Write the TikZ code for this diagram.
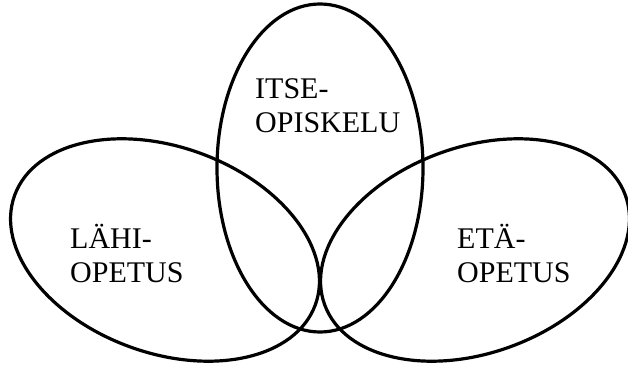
\documentclass[tikz,border=0pt]{standalone}
\usepackage{fontspec}
\setmainfont{Liberation Serif}
\begin{document}
\begin{tikzpicture}[x=1pt,y=-1pt]

  \tikzset{ring/.style={line width=3.2pt},
    setname/.style={anchor=base west, inner sep=0pt, align=left,
      font=\fontsize{30pt}{34pt}\selectfont}}

  \useasboundingbox (0,0) rectangle (628,366);

  \draw[ring] (320,168) ellipse (103 and 164);
  \draw[ring, rotate around={-20:(165,250)}] (165,250) ellipse (160 and 103);
  \draw[ring, rotate around={20:(475,250)}] (475,250) ellipse (160 and 103);

  \node[setname] (itse) at (255,133) {ITSE-\\OPISKELU};
  \node[setname] (lahi) at (70,282) {LÄHI-\\OPETUS};
  \node[setname] (eta) at (457,282) {ETÄ-\\OPETUS};

\end{tikzpicture}
\end{document}
